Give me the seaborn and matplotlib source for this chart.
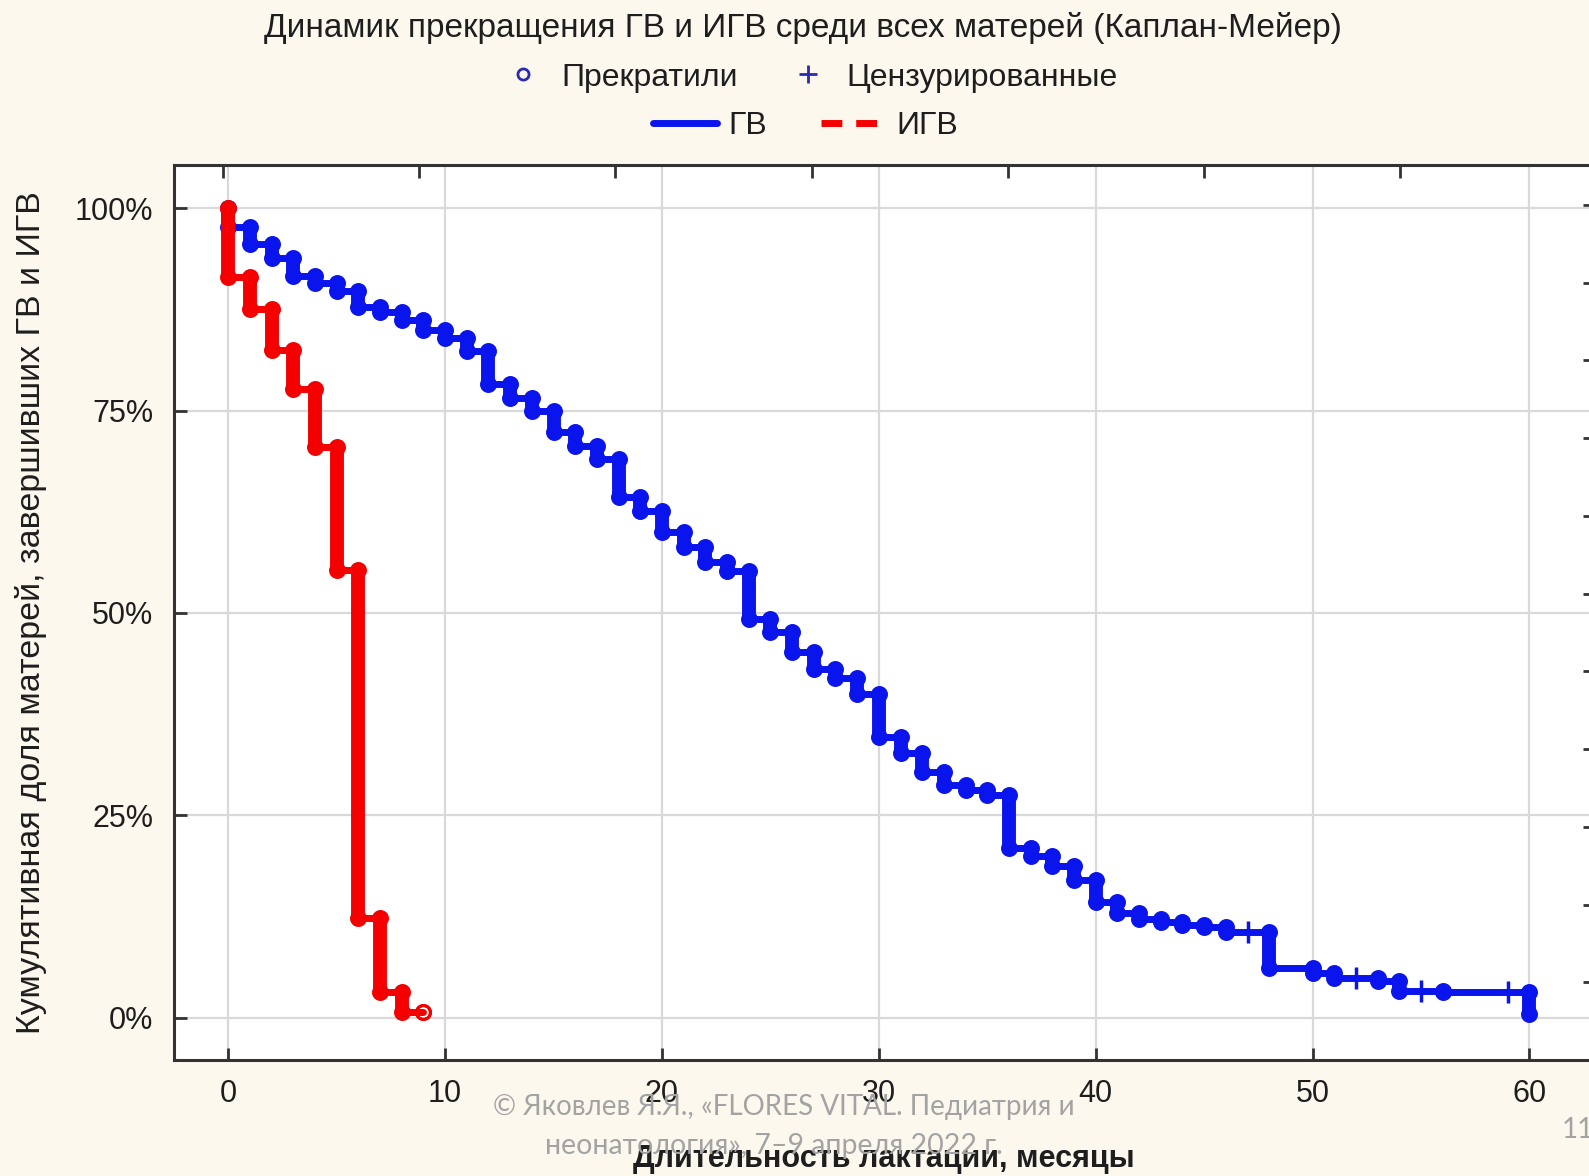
import numpy as np
import pandas as pd
import matplotlib
matplotlib.use("Agg")
import matplotlib.pyplot as plt
from matplotlib.lines import Line2D
import seaborn as sns

# ---------------- data ----------------
title = "Динамик прекращения ГВ и ИГВ среди всех матерей (Каплан-Мейер)"
xlabel = "Длительность лактации, месяцы"
ylabel = "Кумулятивная доля матерей, завершивших ГВ и ИГВ"
legend_marker_labels = ["Прекратили", "Цензурированные"]
legend_line_labels = ["ГВ", "ИГВ"]
x_ticks = [0, 10, 20, 30, 40, 50, 60]
y_ticks = [0, 25, 50, 75, 100]
y_ticklabels = ["0%", "25%", "50%", "75%", "100%"]

# ГВ (breastfeeding): event times (months) and survival level after each event (%)
gv_time = [0, 1, 2, 3, 4, 5, 6, 7, 8, 9, 10, 11, 12, 13, 14, 15, 16, 17, 18, 19,
           20, 21, 22, 23, 24, 25, 26, 27, 28, 29, 30, 31, 32, 33, 34, 35, 36, 37,
           38, 39, 40, 41, 42, 43, 44, 45, 46, 48, 50, 51, 53, 54, 56, 60]
gv_surv = [97.7, 95.6, 93.8, 91.6, 90.7, 89.8, 87.8, 87.2, 86.2, 85.0, 84.0, 82.4,
           78.3, 76.5, 74.9, 72.4, 70.6, 69.0, 64.3, 62.6, 60.0, 58.2, 56.3, 55.2,
           49.3, 47.7, 45.2, 43.1, 42.0, 40.0, 34.7, 32.7, 30.4, 28.8, 28.1, 27.5,
           21.0, 20.0, 18.8, 17.0, 14.3, 13.0, 12.2, 11.8, 11.5, 11.2, 10.6, 6.2,
           5.6, 4.9, 4.5, 3.3, 3.2, 0.5]
gv_cens_time = [47, 52, 55, 59]
gv_cens_surv = [10.6, 4.9, 3.3, 3.2]

# ИГВ (exclusive breastfeeding)
igv_time = [0, 1, 2, 3, 4, 5, 6, 7, 8, 9]
igv_surv = [91.5, 87.5, 82.5, 77.7, 70.5, 55.3, 12.3, 3.2, 0.7, 0.7]

START = 100.0

# ---------------- style ----------------
sns.set_style("ticks")
plt.rcParams["font.family"] = ["Liberation Sans", "DejaVu Sans"]

BLUE = "#0a14ec"
RED = "#f40000"
LEG_BLUE = "#2a2ab4"
TXT = "#1e1e1e"
BG = "#fcf8ee"

fig = plt.figure(figsize=(15.89, 11.76), dpi=100, facecolor=BG)
ax = fig.add_axes([0.1095, 0.0986, 0.894, 0.761])
ax.set_facecolor("white")


def draw_curve(times, surv, color, z):
    before = [START] + list(surv[:-1])
    line_df = pd.DataFrame({"t": [times[0]] + list(times),
                            "s": [START] + list(surv)})
    sns.lineplot(data=line_df, x="t", y="s", ax=ax, drawstyle="steps-post",
                 estimator=None, sort=False, color=color, lw=5,
                 solid_capstyle="round", zorder=z)
    vl = ax.vlines(times, surv, before, colors=color, lw=10, zorder=z + 0.1)
    vl.set_capstyle("round")
    ev_df = pd.DataFrame({"t": list(times) + list(times),
                          "s": list(surv) + list(before)})
    ax.plot(ev_df["t"], ev_df["s"], ls="none", marker="o", ms=10, mfc="none",
            mec=color, mew=2.2, zorder=z + 0.2)


draw_curve(gv_time, gv_surv, BLUE, 3)
draw_curve(igv_time, igv_surv, RED, 5)

cens_df = pd.DataFrame({"t": gv_cens_time, "s": gv_cens_surv})
ax.plot(cens_df["t"], cens_df["s"], ls="none", marker="+", ms=16, mew=2.5,
        color=BLUE, zorder=4)

# axes
ax.set_xlim(-2.5, 63)
ax.set_ylim(-5.2, 105.3)
ax.set_xticks(x_ticks)
ax.set_yticks(y_ticks)
ax.set_yticklabels(y_ticklabels)
ax.grid(True, color="#d9d9d9", lw=1.6, zorder=0)
ax.set_axisbelow(True)
for sp in ax.spines.values():
    sp.set_color("#333333")
    sp.set_linewidth(2.2)
    sp.set_visible(True)
ax.tick_params(axis="x", direction="in", length=9, width=2, color="#333333",
               labelsize=22, labelcolor=TXT, pad=14)
ax.tick_params(axis="y", direction="in", length=9, width=2, color="#333333",
               labelsize=22, labelcolor=TXT, pad=15)

# independent top / right tick marks (no labels)
top = ax.secondary_xaxis("top")
top.set_xticks(np.arange(-0.25, 63, 9.05))
top.tick_params(direction="in", length=9, width=2, color="#333333", labelsize=0,
                labeltop=False)
top.spines["top"].set_visible(False)
right = ax.secondary_yaxis("right")
right.set_yticks(np.arange(4.4, 105, 9.6))
right.tick_params(direction="in", length=9, width=2, color="#333333", labelsize=0,
                  labelright=False)
right.spines["right"].set_visible(False)

ax.set_xlabel(xlabel, fontsize=22, fontweight="bold", color=TXT, va="center")
ax.xaxis.set_label_coords(0.5, -0.1106)
ax.set_ylabel(ylabel, fontsize=24.5, color=TXT, va="center")
ax.yaxis.set_label_coords(-0.101, 0.5)

fig.text(0.505, 0.976, title, ha="center", va="center", fontsize=24, color=TXT)

h1 = [Line2D([], [], ls="none", marker="o", ms=8, mfc="none", mec=LEG_BLUE, mew=2),
      Line2D([], [], ls="none", marker="+", ms=13, mew=2, color=LEG_BLUE)]
leg1 = fig.legend(h1, legend_marker_labels, loc="center", bbox_to_anchor=(0.511, 0.934),
                  ncol=2, frameon=False, fontsize=23, handlelength=1.0,
                  handletextpad=0.7, columnspacing=1.7, borderpad=0)
h2 = [Line2D([], [], color=BLUE, lw=5),
      Line2D([], [], color=RED, lw=5, ls=(0, (3, 2)))]
leg2 = fig.legend(h2, legend_line_labels, loc="center", bbox_to_anchor=(0.507, 0.893),
                  ncol=2, frameon=False, fontsize=23, handlelength=2.0,
                  handletextpad=0.35, columnspacing=1.7, borderpad=0)
for lg in (leg1, leg2):
    for t in lg.get_texts():
        t.set_color(TXT)

# watermark / page number
wm_font = ["Lato", "DejaVu Sans"]
fig.text(0.493, 0.0587, "© Яковлев Я.Я., «FLORES VITAL. Педиатрия и", ha="center",
         va="center", fontsize=20, color="#a3a3a3", family=wm_font, zorder=0)
fig.text(0.487, 0.0255, "неонатология», 7–9 апреля 2022 г.", ha="center",
         va="center", fontsize=20.5, color="#a3a3a3", family=wm_font, zorder=0)
fig.text(0.983, 0.039, "11", ha="left", va="center", fontsize=20, color="#a3a3a3",
         family=wm_font)

fig.savefig("out.png", dpi=100, facecolor=BG)
